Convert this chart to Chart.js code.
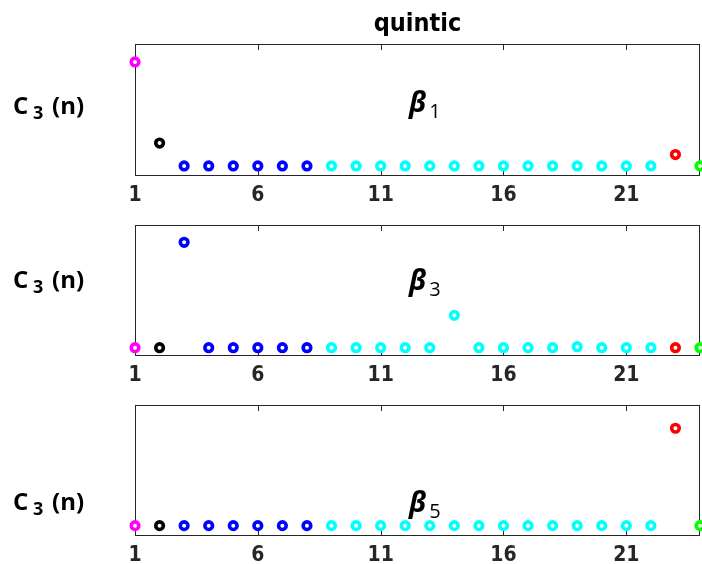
<!DOCTYPE html>
<html>
<head>
<meta charset="utf-8">
<script src="https://cdn.jsdelivr.net/npm/chart.js@4/dist/chart.umd.min.js"></script>
<style>
  html, body { margin: 0; padding: 0; background: #fff; }
  #fig { position: relative; width: 702px; height: 564px; overflow: hidden; background: #fff; }
  #fig canvas { position: absolute; left: 0; }
</style>
</head>
<body>
<div id="fig">
  <canvas id="p1" width="702" height="210" style="top:0px"></canvas>
  <canvas id="p2" width="702" height="185" style="top:200px"></canvas>
  <canvas id="p3" width="702" height="179" style="top:385px"></canvas>
</div>
<script>
// Coefficient index n
const N = [1,2,3,4,5,6,7,8,9,10,11,12,13,14,15,16,17,18,19,20,21,22,23,24];
// Group of each coefficient (sets the marker colour)
const GROUP = ['m','k','b','b','b','b','b','b','c','c','c','c','c','c','c','c','c','c','c','c','c','c','r','g'];
// C_3(n) for each basis function
const BETA1 = [0.863,0.244,0.069,0.069,0.069,0.069,0.069,0.069,0.069,0.069,0.069,0.069,0.069,0.069,0.069,0.069,0.069,0.069,0.069,0.069,0.069,0.069,0.156,0.069];
const BETA3 = [0.056,0.056,0.867,0.056,0.056,0.056,0.056,0.056,0.056,0.056,0.056,0.056,0.056,0.305,0.056,0.056,0.056,0.056,0.064,0.056,0.056,0.056,0.056,0.056];
const BETA5 = [0.072,0.072,0.072,0.072,0.072,0.072,0.072,0.072,0.072,0.072,0.072,0.072,0.072,0.072,0.072,0.072,0.072,0.072,0.072,0.072,0.072,0.072,0.821,0.072];
const XTICKS = [1, 6, 11, 16, 21];
const PANELS = ['1', '3', '5'];
const TITLE = 'quintic';

const COLOR = { m: '#ff00ff', k: '#000000', b: '#0000ff', c: '#00ffff', r: '#ff0000', g: '#00ff00' };
const AXIS = '#262626';
const NARROW = '"Liberation Sans Narrow", "DejaVu Sans Condensed", "Liberation Sans", sans-serif';

// Box round the axes with inward ticks on top and bottom
const framePlugin = {
  id: 'frame',
  beforeDatasetsDraw(chart) {
    const { ctx, chartArea: a, scales: { x } } = chart;
    ctx.save();
    ctx.strokeStyle = AXIS;
    ctx.lineWidth = 1;
    ctx.strokeRect(Math.round(a.left) + 0.5, Math.round(a.top) + 0.5,
                   Math.round(a.right - a.left) - 1, Math.round(a.bottom - a.top));
    ctx.beginPath();
    XTICKS.forEach(v => {
      const px = Math.round(x.getPixelForValue(v)) + 0.5;
      ctx.moveTo(px, a.top); ctx.lineTo(px, a.top + 6);
      ctx.moveTo(px, a.bottom); ctx.lineTo(px, a.bottom - 6);
    });
    ctx.stroke();
    ctx.restore();
  }
};

// Y label "C3 (n)" and the beta annotation
const panelTextPlugin = {
  id: 'panelText',
  afterDraw(chart, args, opts) {
    const { ctx, scales: { x } } = chart;
    ctx.save();
    ctx.fillStyle = '#000';
    ctx.textBaseline = 'alphabetic';
    ctx.textAlign = 'left';
    const yb = opts.labelBase;
    ctx.font = 'bold 24px "Open Sans", sans-serif';
    ctx.fillText('C', 13, yb);
    ctx.font = 'bold 18px "Open Sans", sans-serif';
    ctx.fillText('3', 33, yb + 5);
    ctx.font = 'bold 24px "Open Sans", sans-serif';
    ctx.fillText('(n)', 52, yb);
    const bx = x.getPixelForValue(12.15);
    ctx.font = 'italic bold 28px "Open Sans", sans-serif';
    ctx.fillText('\u03B2', bx, opts.betaBase);
    const w = ctx.measureText('\u03B2').width;
    ctx.font = '20px "Open Sans", sans-serif';
    ctx.fillText(opts.sub, bx + w + 3, opts.betaBase + 6);
    ctx.restore();
  }
};

function makePanel(id, values, sub, opts) {
  const points = N.map((n, i) => ({ x: n, y: values[i] }));
  const colors = GROUP.map(g => COLOR[g]);
  return new Chart(document.getElementById(id), {
    type: 'scatter',
    data: {
      datasets: [{
        data: points,
        pointRadius: 3.8,
        pointHoverRadius: 3.8,
        pointBorderWidth: 3.6,
        pointBorderColor: colors,
        pointBackgroundColor: '#ffffff',
        showLine: false,
        clip: false
      }]
    },
    options: {
      responsive: false,
      animation: false,
      devicePixelRatio: 1,
      layout: { autoPadding: false, padding: { left: 135, right: 2, top: opts.padTop, bottom: opts.padBottom } },
      plugins: {
        legend: { display: false },
        tooltip: { enabled: false },
        title: opts.title ? {
          display: true,
          text: opts.title,
          fullSize: false,
          color: '#000',
          font: { family: NARROW, size: 25, weight: 'bold', lineHeight: 1.2 },
          padding: { top: 9, bottom: 5 }
        } : { display: false },
        panelText: { sub: sub, labelBase: opts.labelBase, betaBase: opts.betaBase }
      },
      scales: {
        x: {
          type: 'linear',
          min: 1,
          max: 24,
          afterBuildTicks: s => { s.ticks = XTICKS.map(v => ({ value: v })); },
          afterFit: s => { s.height = 28; s.paddingLeft = 0; s.paddingRight = 0; },
          grid: { display: false, drawTicks: false },
          border: { display: false },
          ticks: {
            padding: 10,
            autoSkip: false,
            maxRotation: 0,
            color: AXIS,
            font: { family: NARROW, size: 21, weight: 'bold', lineHeight: 1.0 },
            callback: v => String(v)
          }
        },
        y: {
          min: 0,
          max: 1,
          display: false
        }
      }
    },
    plugins: [framePlugin, panelTextPlugin]
  });
}

makePanel('p1', BETA1, PANELS[0], { title: TITLE, padTop: 0, padBottom: 7, labelBase: 114, betaBase: 112 });
makePanel('p2', BETA3, PANELS[1], { padTop: 25, padBottom: 2, labelBase: 88, betaBase: 90 });
makePanel('p3', BETA5, PANELS[2], { padTop: 20, padBottom: 1, labelBase: 125, betaBase: 127 });
</script>
</body>
</html>
